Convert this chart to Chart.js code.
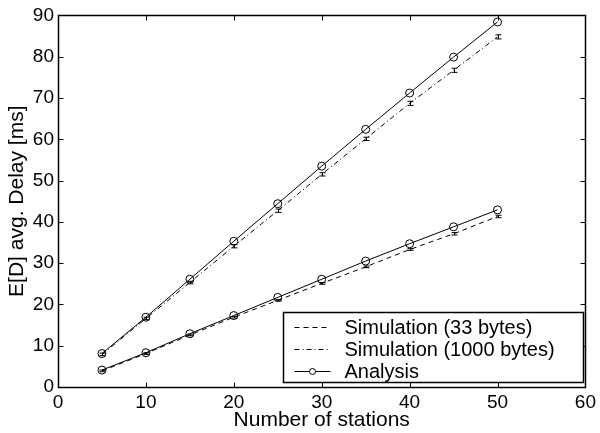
<!DOCTYPE html>
<html>
<head>
<meta charset="utf-8">
<script src="https://cdn.jsdelivr.net/npm/chart.js@4/dist/chart.umd.min.js"></script>
<style>
  html, body { margin: 0; padding: 0; background: #fff; }
  #wrap { width: 600px; height: 433px; }
</style>
</head>
<body>
<div id="wrap"><canvas id="delayChart"></canvas></div>
<script>
// number of stations
const stations = [5, 10, 15, 20, 25, 30, 35, 40, 45, 50];

// simulated average delay [ms] with small confidence intervals
const sim33 = [3.9, 8.1, 12.6, 16.9, 21.0, 25.1, 29.1, 33.3, 37.1, 41.3];
const sim33Err = [0.2, 0.2, 0.2, 0.2, 0.2, 0.2, 0.2, 0.2, 0.3, 0.3];
const sim1000 = [7.9, 16.6, 25.3, 34.1, 42.7, 51.5, 60.1, 68.7, 76.7, 84.8];
const sim1000Err = [0.3, 0.3, 0.3, 0.4, 0.4, 0.4, 0.4, 0.5, 0.5, 0.5];

// analytical model
const analysis33 = [4.1, 8.3, 12.9, 17.3, 21.7, 26.1, 30.5, 34.7, 38.8, 42.9];
const analysis1000 = [8.1, 16.9, 26.1, 35.3, 44.4, 53.5, 62.4, 71.2, 79.9, 88.4];

const legendLabels = ['Simulation (33 bytes)', 'Simulation (1000 bytes)', 'Analysis'];
const xTitle = 'Number of stations';
const yTitle = 'E[D] avg. Delay [ms]';

const FONT = '"Liberation Sans", Arial, Helvetica, sans-serif';
const pts = ys => stations.map((x, i) => ({x: x, y: ys[i]}));

// small error bars on the simulation curves
const errorBars = {
    id: 'errorBars',
    afterDatasetsDraw(chart) {
        const {ctx, scales: {x, y}} = chart;
        ctx.save();
        ctx.strokeStyle = '#000';
        ctx.lineWidth = 1;
        [[sim33, sim33Err], [sim1000, sim1000Err]].forEach(([vals, errs]) => {
            vals.forEach((v, i) => {
                const px = Math.round(x.getPixelForValue(stations[i])) + 0.5;
                const top = y.getPixelForValue(v + errs[i]);
                const bot = y.getPixelForValue(v - errs[i]);
                ctx.beginPath();
                ctx.moveTo(px, top); ctx.lineTo(px, bot);
                ctx.moveTo(px - 3, top); ctx.lineTo(px + 3, top);
                ctx.moveTo(px - 3, bot); ctx.lineTo(px + 3, bot);
                ctx.stroke();
            });
        });
        ctx.restore();
    }
};

// matlab style box with inward ticks on all sides, plus the legend
const boxTicks = {
    id: 'boxTicks',
    afterDraw(chart) {
        const {ctx, chartArea: a, scales: {x, y}} = chart;
        ctx.save();
        ctx.strokeStyle = '#000';
        ctx.lineWidth = 1.5;
        const L = Math.round(a.left) + 0.5, R = Math.round(a.right) + 0.5;
        const T = Math.round(a.top) + 0.5, B = Math.round(a.bottom) + 0.5;
        ctx.strokeRect(L, T, R - L, B - T);
        ctx.lineWidth = 1;
        ctx.beginPath();
        x.ticks.forEach(t => {
            const px = Math.round(x.getPixelForValue(t.value)) + 0.5;
            ctx.moveTo(px, B); ctx.lineTo(px, B - 5);
            ctx.moveTo(px, T); ctx.lineTo(px, T + 5);
        });
        y.ticks.forEach(t => {
            const py = Math.round(y.getPixelForValue(t.value)) + 0.5;
            ctx.moveTo(L, py); ctx.lineTo(L + 5, py);
            ctx.moveTo(R, py); ctx.lineTo(R - 5, py);
        });
        ctx.stroke();

        // legend box in the lower right corner
        const w = 300, h = 70;
        const bx = Math.round(a.right) - 2 - w + 0.5;
        const by = Math.round(a.bottom) - 5 - h + 0.5;
        ctx.fillStyle = '#fff';
        ctx.fillRect(bx, by, w, h);
        ctx.lineWidth = 1.5;
        ctx.strokeRect(bx, by, w, h);
        ctx.lineWidth = 1;
        const dashes = [[5, 4], [5, 3, 1, 3], []];
        ctx.font = '20px ' + FONT;
        ctx.textBaseline = 'middle';
        legendLabels.forEach((lab, i) => {
            const ry = Math.round(by + 14 + i * 22) + 0.5;
            ctx.setLineDash(dashes[i]);
            ctx.beginPath();
            ctx.moveTo(bx + 11, ry); ctx.lineTo(bx + 47, ry);
            ctx.stroke();
            ctx.setLineDash([]);
            if (i === 2) {
                ctx.beginPath();
                ctx.arc(bx + 29, ry, 3, 0, Math.PI * 2);
                ctx.fillStyle = '#fff';
                ctx.fill();
                ctx.stroke();
            }
            ctx.fillStyle = '#000';
            ctx.fillText(lab, bx + 61, ry + 1);
        });
        ctx.restore();
    }
};

const lineStyle = {
    borderColor: '#000',
    borderWidth: 1,
    backgroundColor: 'rgba(0,0,0,0)',
    fill: false,
    tension: 0
};

document.addEventListener('DOMContentLoaded', () => {
    const ctx = document.getElementById('delayChart').getContext('2d');
    new Chart(ctx, {
        type: 'line',
        data: {
            datasets: [
                {...lineStyle, label: legendLabels[0], data: pts(sim33), borderDash: [5, 4], pointRadius: 0},
                {...lineStyle, label: legendLabels[1], data: pts(sim1000), borderDash: [5, 3, 1, 3], pointRadius: 0},
                {...lineStyle, label: legendLabels[2], data: pts(analysis33), pointRadius: 4, pointBorderWidth: 1,
                    pointBorderColor: '#000', pointBackgroundColor: 'rgba(0,0,0,0)'},
                {...lineStyle, label: legendLabels[2], data: pts(analysis1000), pointRadius: 4, pointBorderWidth: 1,
                    pointBorderColor: '#000', pointBackgroundColor: 'rgba(0,0,0,0)'}
            ]
        },
        options: {
            responsive: true,
            maintainAspectRatio: false,
            animation: false,
            layout: {padding: {top: 13, right: 12, left: 0, bottom: 0}},
            plugins: {legend: {display: false}, tooltip: {enabled: false}},
            scales: {
                x: {
                    type: 'linear', min: 0, max: 60,
                    afterFit: s => { s.height = 46; },
                    grid: {display: false, drawTicks: false},
                    border: {display: false},
                    ticks: {stepSize: 10, padding: 4, color: '#000', font: {family: FONT, size: 19}, maxRotation: 0},
                    title: {display: true, text: xTitle, color: '#000', font: {family: FONT, size: 21},
                        padding: {top: -2, bottom: 0}}
                },
                y: {
                    min: 0, max: 90,
                    afterFit: s => { s.width = 58; },
                    grid: {display: false, drawTicks: false},
                    border: {display: false},
                    ticks: {stepSize: 10, padding: 4, color: '#000', font: {family: FONT, size: 19}},
                    title: {display: true, text: yTitle, color: '#000', font: {family: FONT, size: 21},
                        padding: {top: 5, bottom: 0}}
                }
            }
        },
        plugins: [errorBars, boxTicks]
    });
});
</script>
</body>
</html>
